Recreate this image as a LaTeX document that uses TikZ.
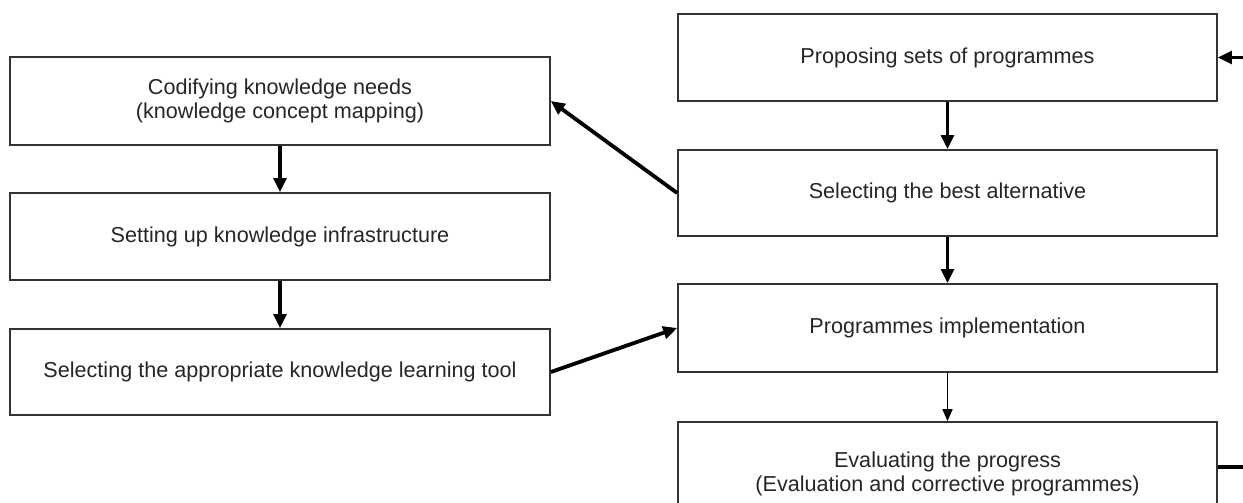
\documentclass[tikz,border=0pt]{standalone}
\usepackage{fontspec}
\setmainfont{Liberation Sans}
\usetikzlibrary{arrows.meta}
\definecolor{edge}{HTML}{333333}
\definecolor{ink}{HTML}{262626}
\begin{document}
\begin{tikzpicture}[x=1pt,y=-1pt,
  stepbox/.style={draw=edge,line width=1.7pt,rectangle,minimum width=540pt,
    inner sep=0pt,align=center,text=ink,
    font=\fontsize{21.6pt}{24.5pt}\selectfont},
  bold/.style={line width=3.8pt,-{Triangle[length=14pt,width=12.5pt]}},
  thin/.style={line width=1.6pt,-{Triangle[length=12pt,width=10pt]}}]
\useasboundingbox (0,0) rectangle (1243,503);
\clip (0,0) rectangle (1243,503);
% left column
\node[stepbox,minimum height=88pt] (codify) at (280,101)
  {Codifying knowledge needs\\(knowledge concept mapping)};
\node[stepbox,minimum height=87pt] (infra) at (280,236.5)
  {Setting up knowledge infrastructure};
\node[stepbox,minimum height=86pt] (tool) at (280,372)
  {Selecting the appropriate knowledge learning tool};
% right column
\node[stepbox,minimum width=539pt,minimum height=87pt] (propose) at (947.5,57.5)
  {Proposing sets of programmes};
\node[stepbox,minimum width=539pt,minimum height=86pt] (select) at (947.5,193)
  {Selecting the best alternative};
\node[stepbox,minimum width=539pt,minimum height=88pt] (implement) at (947.5,328)
  {Programmes implementation};
\node[stepbox,minimum width=539pt,minimum height=104pt] (evaluate) at (947.5,474)
  {Evaluating the progress\\(Evaluation and corrective programmes)};
% feedback loop ends at the page edge
\coordinate (loopin) at (1243,57.5);
\coordinate (loopout) at (1243,467);
% connectors
\draw[bold] (codify) -- (infra);
\draw[bold] (infra) -- (tool);
\draw[bold] (propose) -- (select);
\draw[bold] (select) -- (implement);
\draw[thin] (implement) -- (evaluate);
\draw[bold] (select.west) -- (codify.east);
\draw[bold] (tool.east) -- (implement.west);
\draw[bold] (loopin) -- (propose.east);
\draw[line width=3.8pt] (evaluate.east |- loopout) -- (loopout);
\end{tikzpicture}
\end{document}
